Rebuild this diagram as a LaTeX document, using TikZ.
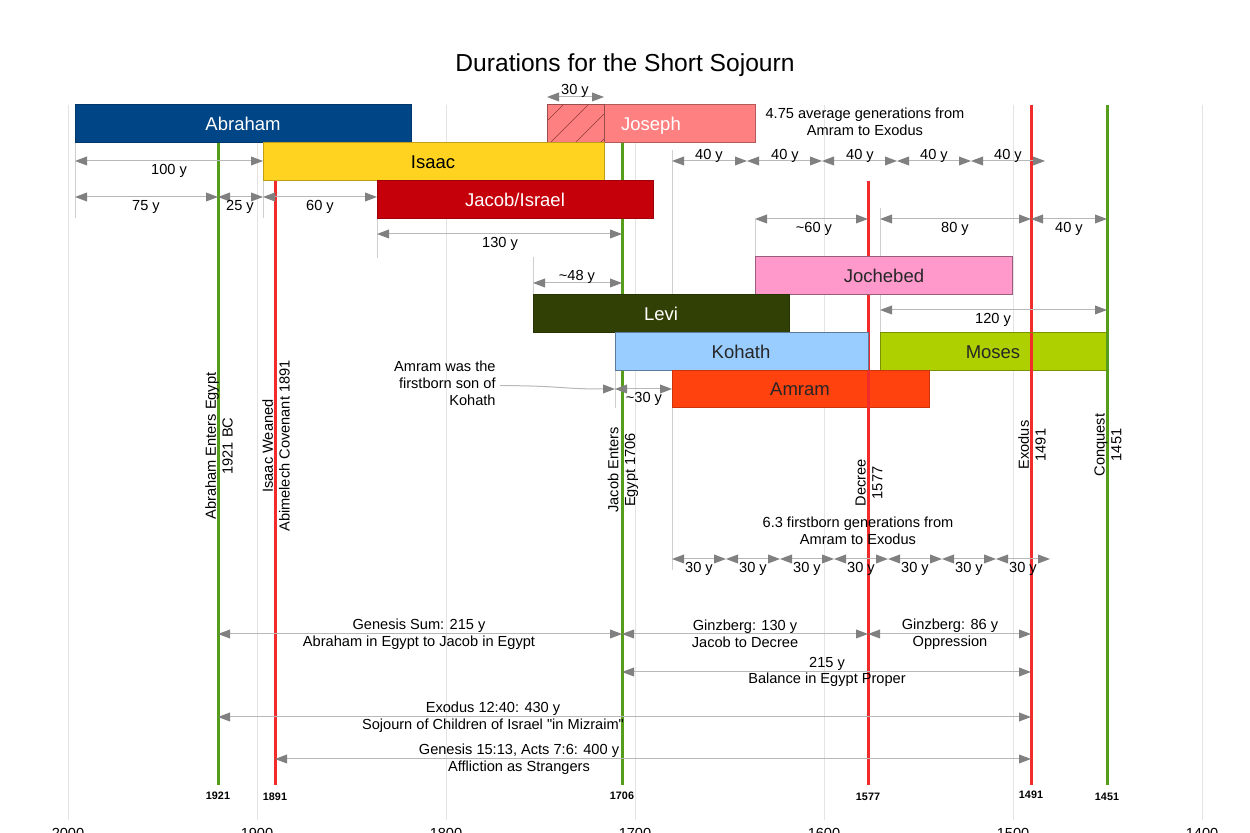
\documentclass[tikz,border=0pt]{standalone}
\usepackage{fontspec}
\setmainfont{Liberation Sans}
\newfontfamily\qfont[Ligatures=ResetAll]{Liberation Sans}
\usetikzlibrary{arrows.meta}
\definecolor{cAbr}{HTML}{004586}
\definecolor{cIsa}{HTML}{FFD320}
\definecolor{cJac}{HTML}{C5000B}
\definecolor{cJos}{HTML}{FF8080}
\definecolor{cJoc}{HTML}{FF99CC}
\definecolor{cLev}{HTML}{314004}
\definecolor{cKoh}{HTML}{99CCFF}
\definecolor{cMos}{HTML}{AECF00}
\definecolor{cAmr}{HTML}{FF420E}
\definecolor{gridc}{HTML}{E4E4E4}
\definecolor{extc}{HTML}{CFCFCF}
\definecolor{dimc}{HTML}{B8B8B8}
\definecolor{arrc}{HTML}{808080}
\definecolor{evgreen}{HTML}{579D1C}
\definecolor{evred}{HTML}{F22B2B}
\definecolor{hatchc}{HTML}{8A3A3A}
\newcommand\lblfont{\fontsize{7.3}{8.4}\selectfont}
\newcommand\barfont{\fontsize{9.25}{11}\selectfont}
\newcommand\ttlfont{\fontsize{12.3}{15}\selectfont}
\newcommand\yrfont{\fontsize{5.4}{6}\selectfont\bfseries}
\newcommand\tld{{\char"7E\relax}}
\newcommand\sq{{\qfont\char"22\relax}}
\begin{document}
\begin{tikzpicture}[x=0.5pt,y=-0.5pt,
  grid/.style={draw=gridc, line width=0.5pt},
  ext/.style={draw=extc, line width=0.5pt},
  evg/.style={draw=evgreen, line width=1.5pt},
  evr/.style={draw=evred, line width=1.5pt},
  dim/.style={draw=dimc, line width=0.5pt, arrows={Triangle[length=6pt,width=4.4pt,color=arrc]-Triangle[length=6pt,width=4.4pt,color=arrc]}},
  conn/.style={draw=dimc, line width=0.5pt, arrows={-Triangle[length=6pt,width=4.4pt,color=arrc]}},
  lbl/.style={font=\lblfont, inner sep=0pt, text height=5.2pt, text depth=0pt},
  mlbl/.style={font=\lblfont, inner sep=0pt, align=center},
  evlbl/.style={font=\lblfont, inner sep=0pt, align=center, rotate=90},
  bartxt/.style={font=\barfont, inner sep=0pt, anchor=base},
  yr/.style={font=\yrfont, inner sep=0pt, anchor=base},
  ax/.style={font=\lblfont, inner sep=0pt, anchor=base},
  bar/.style={line width=0.5pt}
]
\useasboundingbox (0,0) rectangle (1250,833);
\fill[white] (0,0) rectangle (1250,833);

% title
\node[font=\ttlfont, inner sep=0pt, anchor=base] (title) at (625,72) {Durations for the Short Sojourn};

% grid lines
\foreach \gx in {68,257,446,635,824,1013,1202} \draw[grid] (\gx,105) -- (\gx,820);
% axis labels (cut off at bottom, as in the reference)
\node[ax] (a2000) at (68,839) {2000};
\node[ax] (a1900) at (257,839) {1900};
\node[ax] (a1800) at (446,839) {1800};
\node[ax] (a1700) at (635,839) {1700};
\node[ax] (a1600) at (824,839) {1600};
\node[ax] (a1500) at (1013,839) {1500};
\node[ax] (a1400) at (1202,839) {1400};

% extension lines
\draw[ext] (75,143) -- (75,218);
\draw[ext] (263,181) -- (263,218);
\draw[ext] (377,219) -- (377,258);
\draw[ext] (533,257) -- (533,295);
\draw[ext] (672,150) -- (672,570);
\draw[ext] (755,219) -- (755,257);
\draw[ext] (880,208) -- (880,333);
\draw[ext] (615,371) -- (615,408);

% event lines
\draw[evg] (218,143) -- (218,785);
\draw[evr] (275,181) -- (275,785);
\draw[evg] (622,143) -- (622,785);
\draw[evr] (868,181) -- (868,785);
\draw[evr] (1031,105) -- (1031,785);
\draw[evg] (1107,105) -- (1107,785);

% year labels
\node[yr] (y1921) at (218,800) {1921};
\node[yr] (y1891) at (275,801) {1891};
\node[yr] (y1706) at (622,800) {1706};
\node[yr] (y1577) at (868,801) {1577};
\node[yr] (y1491) at (1031,799) {1491};
\node[yr] (y1451) at (1107,801) {1451};

% event labels
\node[evlbl] (eAbr) at (219,446) {Abraham Enters Egypt\\1921 BC};
\node[evlbl] (eIsa) at (276,446) {Isaac Weaned\\Abimelech Covenant 1891};
\node[evlbl] (eJac) at (623,470) {Jacob Enters\\Egypt 1706};
\node[evlbl] (eDec) at (869,483) {Decree\\1577};
\node[evlbl] (eExo) at (1032,445) {Exodus\\1491};
\node[evlbl] (eCon) at (1108,445) {Conquest\\1451};

% dimension lines, top
\draw[dim] (547,97) -- (604,97);
\node[lbl] (d30top) at (575,89) {30 y};
\draw[dim] (75,161) -- (263,161);
\node[lbl] (d100) at (169,169) {100 y};
\draw[dim] (75,197) -- (218,197);
\node[lbl] (d75) at (146,205) {75 y};
\draw[dim] (218,197) -- (263,197);
\node[lbl] (d25) at (240,205) {25 y};
\draw[dim] (263,197) -- (377,197);
\node[lbl] (d60) at (320,205) {60 y};
\draw[dim] (377,234) -- (622,234);
\node[lbl] (d130) at (500,242) {130 y};
% 40 y generations
\draw[dim] (672,161) -- (747,161);
\draw[dim] (747,161) -- (822,161);
\draw[dim] (822,161) -- (897,161);
\draw[dim] (897,161) -- (971,161);
\draw[dim] (971,161) -- (1045,161);
\node[lbl] (g1) at (709,154) {40 y};
\node[lbl] (g2) at (785,154) {40 y};
\node[lbl] (g3) at (860,154) {40 y};
\node[lbl] (g4) at (934,154) {40 y};
\node[lbl] (g5) at (1008,154) {40 y};
\node[mlbl] (avg) at (865,122) {4.75 average generations from\\Amram to Exodus};
% Moses row
\draw[dim] (755,219) -- (868,219);
\node[lbl] (d60b) at (814,227) {\tld60 y};
\draw[dim] (880,219) -- (1031,219);
\node[lbl] (d80) at (955,227) {80 y};
\draw[dim] (1031,219) -- (1107,219);
\node[lbl] (d40) at (1069,227) {40 y};
\draw[dim] (533,283) -- (622,283);
\node[lbl] (d48) at (577,275) {\tld48 y};
\draw[dim] (880,310) -- (1107,310);
\node[lbl] (d120) at (993,318) {120 y};

% bars
\filldraw[bar, fill=cAbr, draw=cAbr!80!black] (75,105) rectangle (411,143);
\filldraw[bar, fill=cJos, draw=cJos!70!black] (547,105) rectangle (755,143);
\begin{scope}
\clip (547,105) rectangle (604,143);
\foreach \k in {-22,3,28,53} \draw[hatchc, line width=0.35pt] (547+\k,143) -- (585+\k,105);
\end{scope}
\draw[bar, draw=cJos!60!black] (547,105) rectangle (604,143);
\filldraw[bar, fill=cIsa, draw=cIsa!75!black] (263,143) rectangle (604,181);
\filldraw[bar, fill=cJac, draw=cJac!80!black] (377,181) rectangle (653,219);
\filldraw[bar, fill=cJoc, draw=cJoc!60!black] (755,257) rectangle (1012,295);
\filldraw[bar, fill=cLev, draw=cLev!80!black] (533,295) rectangle (789,333);
\filldraw[bar, fill=cKoh, draw=cKoh!60!black] (615,333) rectangle (868,371);
\filldraw[bar, fill=cMos, draw=cMos!70!black] (880,333) rectangle (1107,371);
\filldraw[bar, fill=cAmr, draw=cAmr!80!black] (672,371) rectangle (929,408);
% lines drawn over bars
\draw[evr] (1031,333) -- (1031,371);
\draw[evr] (868,371) -- (868,408);
\draw[evg] (1107,333) -- (1107,371);

\node[bartxt, text=white] (abraham) at (243,130.5) {Abraham};
\node[bartxt, text=white] (joseph) at (651,130.5) {Joseph};
\node[bartxt, text=black] (isaac) at (433,168.5) {Isaac};
\node[bartxt, text=white] (jacob) at (515,206.5) {Jacob/Israel};
\node[bartxt, text=black!85] (jochebed) at (884,282.5) {Jochebed};
\node[bartxt, text=white] (levi) at (661,320.5) {Levi};
\node[bartxt, text=black!85] (kohath) at (741,358.5) {Kohath};
\node[bartxt, text=black!85] (moses) at (993,358.5) {Moses};
\node[bartxt, text=black!85] (amram) at (800,395.5) {Amram};

% Amram note
\node[mlbl, align=right, anchor=east, inner sep=2pt] (note) at (500,383.5) {Amram was the\\firstborn son of\\Kohath};
\coordinate (noteend) at (615,389);
\draw[conn] (note.east) ++(0,2) .. controls (565,386) and (560,389) .. (noteend);
\draw[dim] (615,389) -- (672,389);
\node[lbl] (d30) at (644,397) {\tld30 y};

% firstborn generations
\node[mlbl] (fb) at (858,531) {6.3 firstborn generations from\\Amram to Exodus};
\foreach \a/\b in {672/726,726/780,780/834,834/888,888/942,942/996,996/1050}
  \draw[dim] (\a,559) -- (\b,559);
\foreach \c in {699,753,807,861,915,969,1023}
  \node[lbl] at (\c,567) {30 y};

% bottom spans
\draw[dim] (218,634) -- (622,634);
\node[mlbl] (gsum) at (419,634) {Genesis Sum: 215 y\\Abraham in Egypt to Jacob in Egypt};
\draw[dim] (622,634) -- (868,634);
\node[mlbl] (g130) at (745,634) {Ginzberg: 130 y\\Jacob to Decree};
\draw[dim] (868,634) -- (1031,634);
\node[mlbl] (g86) at (950,634) {Ginzberg: 86 y\\Oppression};
\draw[dim] (622,672) -- (1031,672);
\node[mlbl] (bal) at (827,672) {215 y\\Balance in Egypt Proper};
\draw[dim] (218,717) -- (1031,717);
\node[mlbl] (exo) at (493,717) {Exodus 12:40: 430 y\\Sojourn of Children of Israel \sq in Mizraim\sq};
\draw[dim] (275,759) -- (1031,759);
\node[mlbl] (gen) at (519,759) {Genesis 15:13, Acts 7:6: 400 y\\Affliction as Strangers};
\end{tikzpicture}
\end{document}
